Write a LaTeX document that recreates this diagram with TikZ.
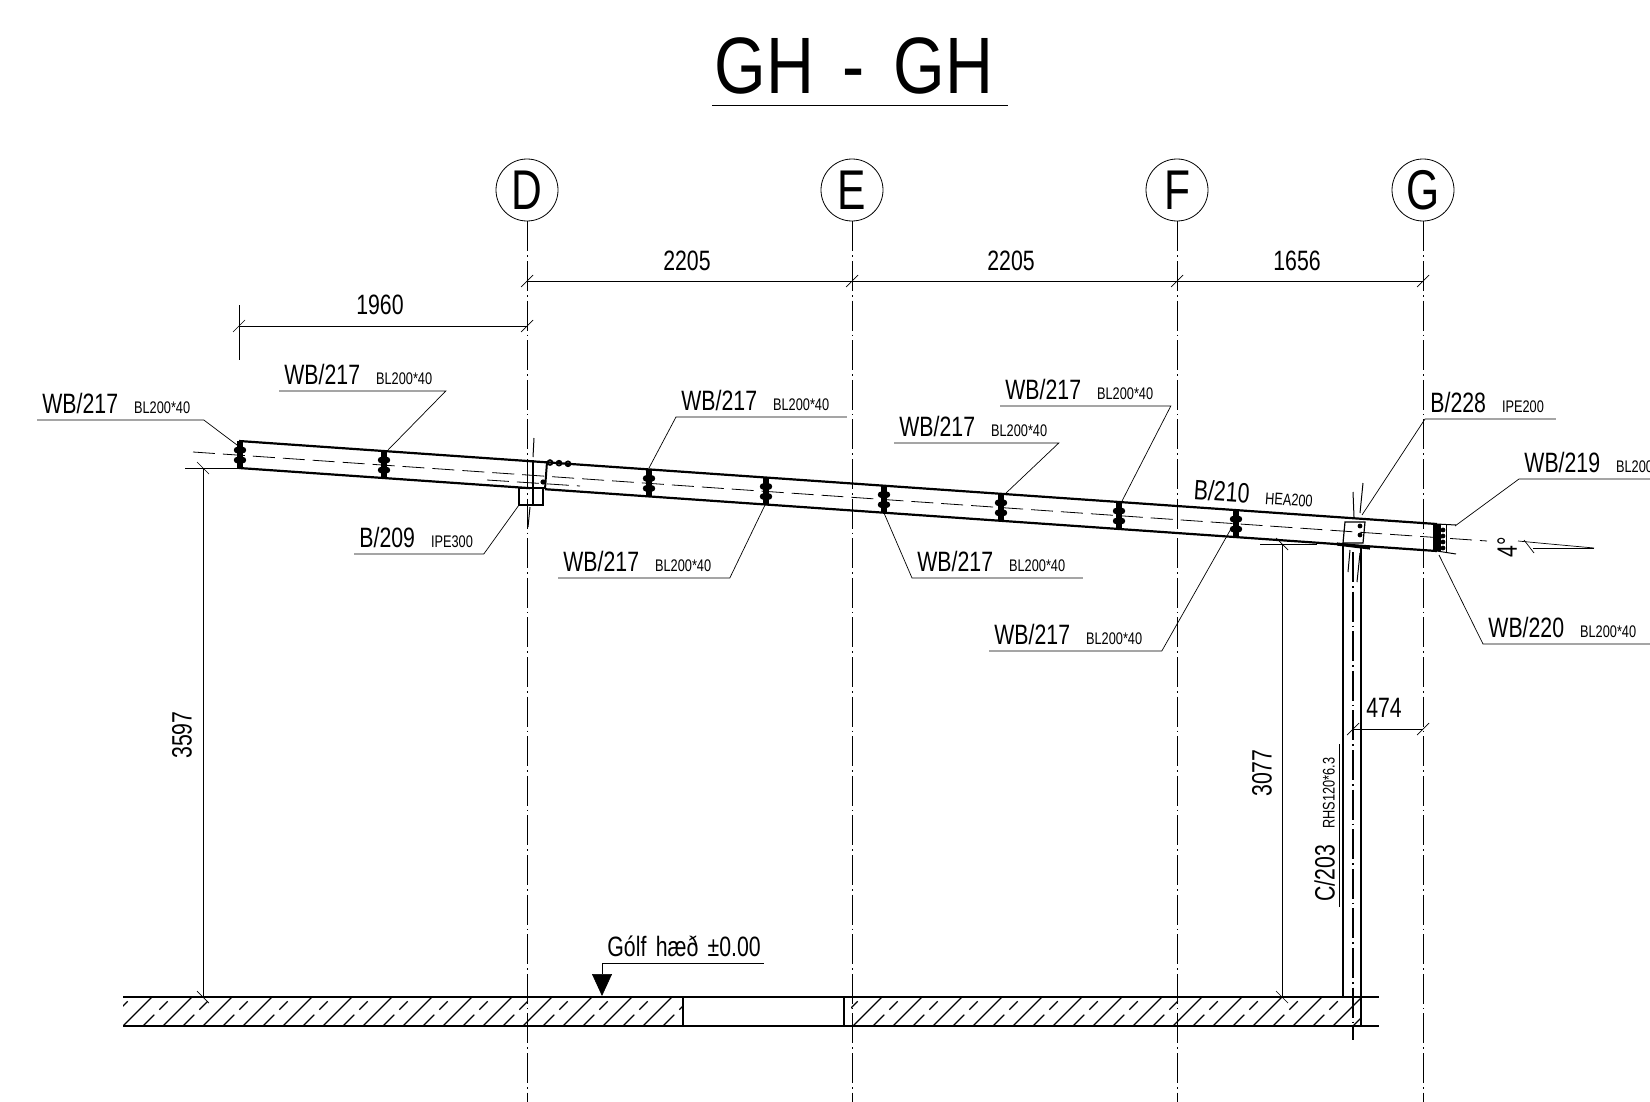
\documentclass[tikz,border=0pt]{standalone}
\usepackage{fontspec}
\setmainfont[FakeStretch=.76]{Liberation Sans}
\newfontfamily\titlefont[FakeStretch=.83]{Liberation Sans}
\usetikzlibrary{arrows.meta}
\newcommand{\subtag}[1]{\hspace{8pt}{\fontsize{8.4}{9}\selectfont #1}}
\tikzset{
  every node/.style={font=\fontsize{14}{16}\selectfont},
  tag/.style={anchor=south west,inner xsep=2.5pt,inner ysep=3pt,text depth=0pt,text width=#1*.5pt-5pt,align=left},
  gridmark/.style={circle,draw,inner sep=0pt,minimum size=31pt,font=\fontsize{28}{30}\selectfont},
  gridline/.style={thin,dash pattern=on 15pt off 2pt on .8pt off 2pt},
  centreline/.style={thin,dash pattern=on 11pt off 4pt},
  dimline/.style={line width=.35pt},
  leader/.style={line width=.35pt},
  beamline/.style={line width=1.1pt},
  hatchlong/.style={line width=.6pt},
  hatchshort/.style={line width=.6pt,dash pattern=on 8pt off 3.5pt on 6pt off 10pt}
}
\begin{document}
\begin{tikzpicture}[x=.5pt,y=-.5pt,
    declare function={topy(\x)=441+.0693*(\x-239);boty(\x)=468+.0693*(\x-239);}]
  \clip (0,0) rectangle (1650,1102);

  \node[tag=295,inner ysep=6pt,font=\titlefont\fontsize{40}{44}\selectfont] (title) at (712,106) {\mbox{\hspace{-1.5pt}GH\hspace{1pt} - \hspace{1pt}GH}};
  \draw[line width=.5pt] (title.south west) -- (title.south east);

  \node[gridmark] (D) at (527,190) {D};
  \node[gridmark] (E) at (852,190) {E};
  \node[gridmark] (F) at (1177,190) {F};
  \node[gridmark] (G) at (1423,190) {G};
  \foreach \n/\x in {D/527,E/852,F/1177,G/1423} {
    \coordinate (\n end) at (\x,1102);
    \draw[gridline] (\n) -- (\n end);
  }

  \coordinate (dimD) at (527,281);
  \coordinate (dimE) at (852,281);
  \coordinate (dimF) at (1177,281);
  \coordinate (dimG) at (1423,281);
  \coordinate (dimA) at (239,326);
  \coordinate (dimB) at (527,326);
  \coordinate (dimC) at (1353,729);
  \coordinate (dimH) at (1423,729);
  \draw[dimline] (dimD) -- (dimG);
  \draw[dimline] (dimA) -- (dimB);
  \draw[dimline] (dimC) -- (dimH);
  \draw[dimline] (239,305) -- (239,360);
  \foreach \p in {dimD,dimE,dimF,dimG,dimA,dimB,dimC,dimH}
    \draw[dimline] (\p) ++(-6,6) -- ++(12,-12);
  \node (dimDE) at (687,261) {2205};
  \node (dimEF) at (1011,261) {2205};
  \node (dimFG) at (1297,261) {1656};
  \node (dimAB) at (380,305) {1960};
  \node (dimCH) at (1384,708) {474};

  \coordinate (lvlA) at (203,468);
  \coordinate (lvlB) at (203,997);
  \coordinate (lvlC) at (1282,544);
  \coordinate (lvlD) at (1282,997);
  \draw[dimline] (lvlA) -- (lvlB);
  \draw[dimline] (lvlC) -- (lvlD);
  \draw[dimline] (185,468) -- (239,468);
  \draw[dimline] (1260,544) -- (1317,544);
  \foreach \p in {lvlA,lvlB,lvlC,lvlD}
    \draw[dimline] (\p) ++(-6,-6) -- ++(12,12);
  \node[rotate=90] (lvlAB) at (182,735) {3597};
  \node[rotate=90] (lvlCD) at (1262,773) {3077};

  \draw[beamline] (239,{topy(239)}) -- (533,{topy(533)}) -- (1437,{topy(1437)});
  \draw[beamline] (239,{boty(239)}) -- (530,{boty(530)});
  \draw[beamline] (545,{boty(545)}) -- (1437,{boty(1437)});
  \draw[line width=.5pt] (1437,{topy(1437)}) -- (1456,525);
  \draw[line width=.5pt] (1437,{boty(1437)}) -- (1456,554);
  \draw[line width=.5pt] (1446,525) -- (1446,553);
  \draw[centreline] (193,452) -- (1487,541);
  \draw[centreline] (487,480) -- (580,486);

  \foreach \x in {240,384,649,766,884,1001,1119,1236} {
    \draw[line width=3.2pt] (\x,{topy(\x)}) -- (\x,{boty(\x)});
    \foreach \d in {9,19} {
      \fill (\x-3,{topy(\x)+\d}) circle (1.6pt);
      \fill (\x+3,{topy(\x)+\d}) circle (1.6pt);
    }
  }
  \draw[line width=3.6pt] (1437,{topy(1437)}) -- (1437,{boty(1437)});
  \foreach \d in {6,12,18,24}
    \fill (1443,{topy(1437)+\d}) circle (1.2pt);

  \draw[line width=.7pt] (519,488) rectangle (543,505);
  \draw[line width=.7pt] (533,460) -- (533,505);
  \draw[line width=1pt] (547,462) -- (545,489);
  \foreach \x in {550,559,568}
    \draw[line width=.9pt] (\x,{topy(\x)}) circle (1.2pt);
  \fill (543,482) circle (1.3pt);
  \draw[line width=.5pt] (534,438) -- (533,457);
  \draw[line width=.5pt] (530,507) -- (528,527);

  \draw[line width=.6pt] (1345,522) -- (1365,522) -- (1363,543) -- (1343,543) -- cycle;
  \fill (1360,526) circle (1.2pt);
  \fill (1360,535) circle (1.2pt);
  \draw[line width=1.6pt] (1337,544) -- (1370,548);
  \draw[line width=.5pt] (1353,492) -- (1354,517);
  \draw[line width=.5pt] (1363,483) -- (1360,513);
  \draw[line width=.5pt] (1350,550) -- (1348,572);
  \draw[line width=.5pt] (1360,553) -- (1357,582);
  \draw[line width=.7pt] (1343,545) -- (1343,997);
  \draw[line width=.7pt] (1361,548) -- (1361,1026);
  \draw[gridline,line width=.7pt] (1353,552) -- (1353,1040);

  \node[rotate=90] (angle) at (1507,547) {4°};
  \draw[leader] (1518,541) -- (1550,544) -- (1594,548);
  \draw[leader] (1533,548) -- (1594,548);
  \draw[leader] (1524,540) -- (1534,553);

  \draw[line width=.7pt] (123,997) -- (1379,997);
  \draw[line width=.7pt] (123,1026) -- (1379,1026);
  \draw[line width=.6pt] (683,997) -- (683,1026);
  \draw[line width=.6pt] (844,997) -- (844,1026);
  \begin{scope}
    \clip (123,997) rectangle (683,1026);
    \foreach \x in {83,123,...,643} {
      \draw[hatchlong] (\x,1026) -- (\x+29,997);
      \draw[hatchshort] (\x+20,1026) -- (\x+49,997);
    }
  \end{scope}
  \begin{scope}
    \clip (851,997) rectangle (1361,1026);
    \foreach \x in {813,853,...,1333} {
      \draw[hatchlong] (\x,1026) -- (\x+29,997);
      \draw[hatchshort] (\x+20,1026) -- (\x+49,997);
    }
  \end{scope}

  \node[tag=161] (floor) at (602,963) {\mbox{Gólf hæð ±0.00}};
  \coordinate (floorpt) at (602,996);
  \draw[leader] (floor.south west) -- (floor.south east);
  \draw[leader,-{Triangle[width=10pt,length=11pt]}] (floor.south west) -- (floorpt);

  \node[tag=166] (wbA) at (37,420) {WB/217\subtag{BL200*40}};
  \node[tag=166] (wbB) at (279,391) {WB/217\subtag{BL200*40}};
  \node[tag=170] (wbC) at (676,417) {WB/217\subtag{BL200*40}};
  \node[tag=171] (wbD) at (558,578) {WB/217\subtag{BL200*40}};
  \node[tag=170] (wbE) at (912,578) {WB/217\subtag{BL200*40}};
  \node[tag=164] (wbF) at (894,443) {WB/217\subtag{BL200*40}};
  \node[tag=170] (wbG) at (1000,406) {WB/217\subtag{BL200*40}};
  \node[tag=172] (wbH) at (989,651) {WB/217\subtag{BL200*40}};
  \node[tag=131] (wbI) at (1519,479) {\mbox{WB/219\subtag{BL200}}};
  \node[tag=167] (wbJ) at (1483,644) {WB/220\subtag{BL200*40}};
  \node[tag=129] (bA) at (354,554) {B/209\subtag{IPE300}};
  \node[tag=130] (bB) at (1425,419) {B/228\subtag{IPE200}};
  \node[anchor=base west,rotate=-4,inner sep=0pt] (bC) at (1193,499) {B/210\subtag{HEA200}};

  \coordinate (wbAend) at (237,445);
  \coordinate (wbBend) at (388,450);
  \coordinate (wbCend) at (649,468);
  \coordinate (wbDend) at (765,505);
  \coordinate (wbEend) at (884,513);
  \coordinate (wbFend) at (1005,494);
  \coordinate (wbGend) at (1121,503);
  \coordinate (wbHend) at (1232,527);
  \coordinate (wbIend) at (1455,526);
  \coordinate (wbJend) at (1439,555);
  \coordinate (bAend) at (519,505);
  \coordinate (bBend) at (1362,515);

  \draw[leader] (wbA.south west) -- (wbA.south east) -- (wbAend);
  \draw[leader] (wbB.south west) -- (wbB.south east) -- (wbBend);
  \draw[leader] (wbC.south east) -- (wbC.south west) -- (wbCend);
  \draw[leader] (wbD.south west) -- (wbD.south east) -- (wbDend);
  \draw[leader] (wbE.south east) -- (wbE.south west) -- (wbEend);
  \draw[leader] (wbF.south west) -- (wbF.south east) -- (wbFend);
  \draw[leader] (wbG.south west) -- (wbG.south east) -- (wbGend);
  \draw[leader] (wbH.south west) -- (wbH.south east) -- (wbHend);
  \draw[leader] (wbI.south east) -- (wbI.south west) -- (wbIend);
  \draw[leader] (wbJ.south east) -- (wbJ.south west) -- (wbJend);
  \draw[leader] (bA.south west) -- (bA.south east) -- (bAend);
  \draw[leader] (bB.south east) -- (bB.south west) -- (bBend);

  \node[tag=162,rotate=90,inner ysep=2pt] (cA) at (1339,907) {C/203\subtag{RHS120*6.3}};
  \draw[leader] (cA.south west) -- (cA.south east);
\end{tikzpicture}
\end{document}
